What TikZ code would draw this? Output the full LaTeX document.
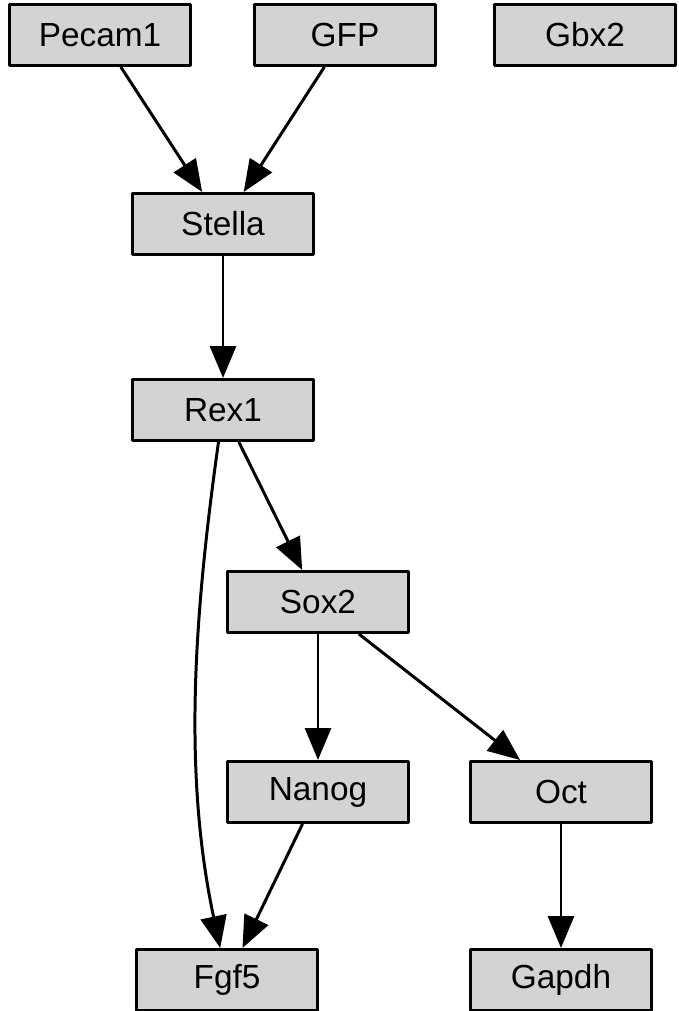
\documentclass[tikz,border=0pt]{standalone}
\usepackage{fontspec}
\setmainfont{Liberation Sans}
\usepackage{tikz}
\usetikzlibrary{arrows.meta, positioning}
\definecolor{genegray}{RGB}{211,211,211}

\begin{document}
\begin{tikzpicture}[x=0.02cm, y=0.02cm,
  gene/.style={draw, line width=1.7pt, line join=round, fill=genegray, minimum width=3.64cm,
    minimum height=1.22cm, inner sep=0pt, font=\fontsize{19}{23}\selectfont},
  link/.style={line width=1.7pt, -{Triangle[length=0.64cm, width=0.52cm]}}]
\useasboundingbox (0,0) rectangle (679,-1011);

% Genes
\node[gene] (pecam) at (100,-35) {Pecam1};
\node[gene] (gfp) at (345,-35) {GFP};
\node[gene] (gbx) at (585,-35) {Gbx2};
\node[gene] (stella) at (223,-224) {Stella};
\node[gene] (rex) at (223,-410) {Rex1};
\node[gene] (sox) at (318,-602) {Sox2};
\node[gene] (nanog) at (318,-792) {Nanog};
\node[gene] (oct) at (561,-792) {Oct};
\node[gene] (fgf) at (227,-980) {Fgf5};
\node[gene] (gapdh) at (561,-980) {Gapdh};

% Links
\draw[link] (pecam) -- (stella);
\draw[link] (gfp) -- (stella);
\draw[link] (stella) -- (rex);
\draw[link] (rex) -- (sox);
\draw[link] (rex) to[out=-98, in=102, looseness=0.9] (fgf);
\draw[link] (sox) -- (nanog);
\draw[link] (sox) -- (oct);
\draw[link] (nanog) -- (fgf);
\draw[link] (oct) -- (gapdh);
\end{tikzpicture}
\end{document}
